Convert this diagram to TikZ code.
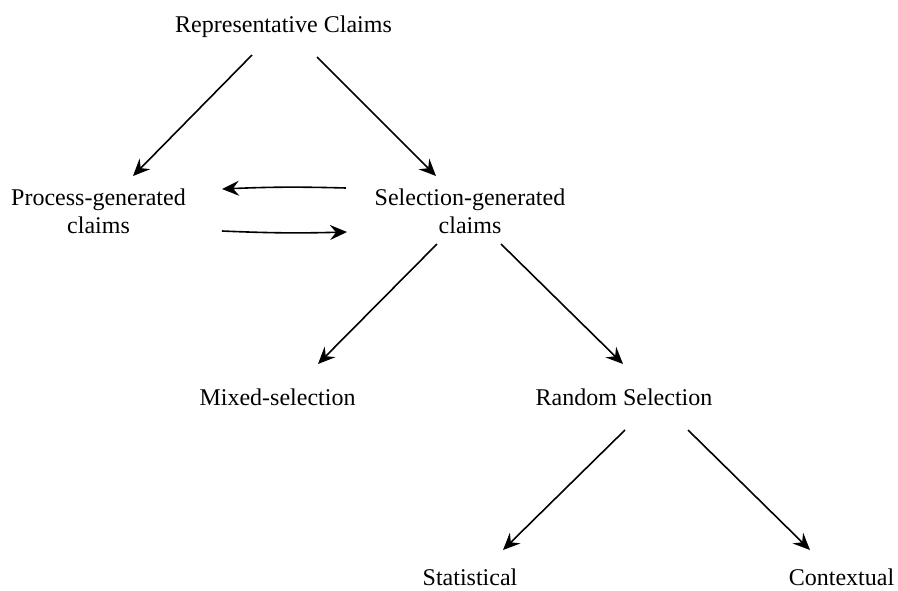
\documentclass[tikz,border=0pt]{standalone}
\usepackage{fontspec}
\setmainfont{Liberation Serif}
\usetikzlibrary{arrows.meta}
\begin{document}
\begin{tikzpicture}[x=1pt,y=-1pt,
  lbl/.style={inner sep=0pt,font=\fontsize{24}{28}\selectfont,align=center},
  arr/.style={line width=1.6pt,-{Stealth[length=17pt,width=15pt,inset=6pt]}}]
\useasboundingbox[fill=white] (0,0) rectangle (898,590);

% labels
\node[lbl,anchor=base]  (rep)  at (283.5,32)  {Representative Claims};
\node[lbl,anchor=north] (proc) at (98.5,189)  {Process-generated\\claims};
\node[lbl,anchor=north] (sel)  at (470,189)   {Selection-generated\\claims};
\node[lbl,anchor=base]  (mix)  at (277.5,405) {Mixed-selection};
\node[lbl,anchor=base]  (rand) at (624,405)   {Random Selection};
\node[lbl,anchor=base]  (stat) at (470,585)   {Statistical};
\node[lbl,anchor=base]  (cont) at (841.5,585) {Contextual};

% tree connectors
\draw[arr] ([shift={(-31.5,23)}]rep.base) -- ([shift={(34.5,-13)}]proc.north);
\draw[arr] ([shift={(33.5,25)}]rep.base)  -- ([shift={(-34,-13)}]sel.north);
\draw[arr] ([shift={(-33,55)}]sel.north)  -- ([shift={(40.5,-41)}]mix.base);
\draw[arr] ([shift={(31,55)}]sel.north)   -- ([shift={(-1,-41)}]rand.base);
\draw[arr] ([shift={(1,25)}]rand.base)    -- ([shift={(33,-35)}]stat.base);
\draw[arr] ([shift={(64,25)}]rand.base)   -- ([shift={(-31.5,-35)}]cont.base);

% exchange between the two kinds of claims
\draw[arr] ([shift={(-124,-1)}]sel.north) to[bend right=2] ([shift={(123.5,0)}]proc.north);
\draw[arr] ([shift={(123.5,42)}]proc.north) to[bend right=2] ([shift={(-123,43)}]sel.north);
\end{tikzpicture}
\end{document}
